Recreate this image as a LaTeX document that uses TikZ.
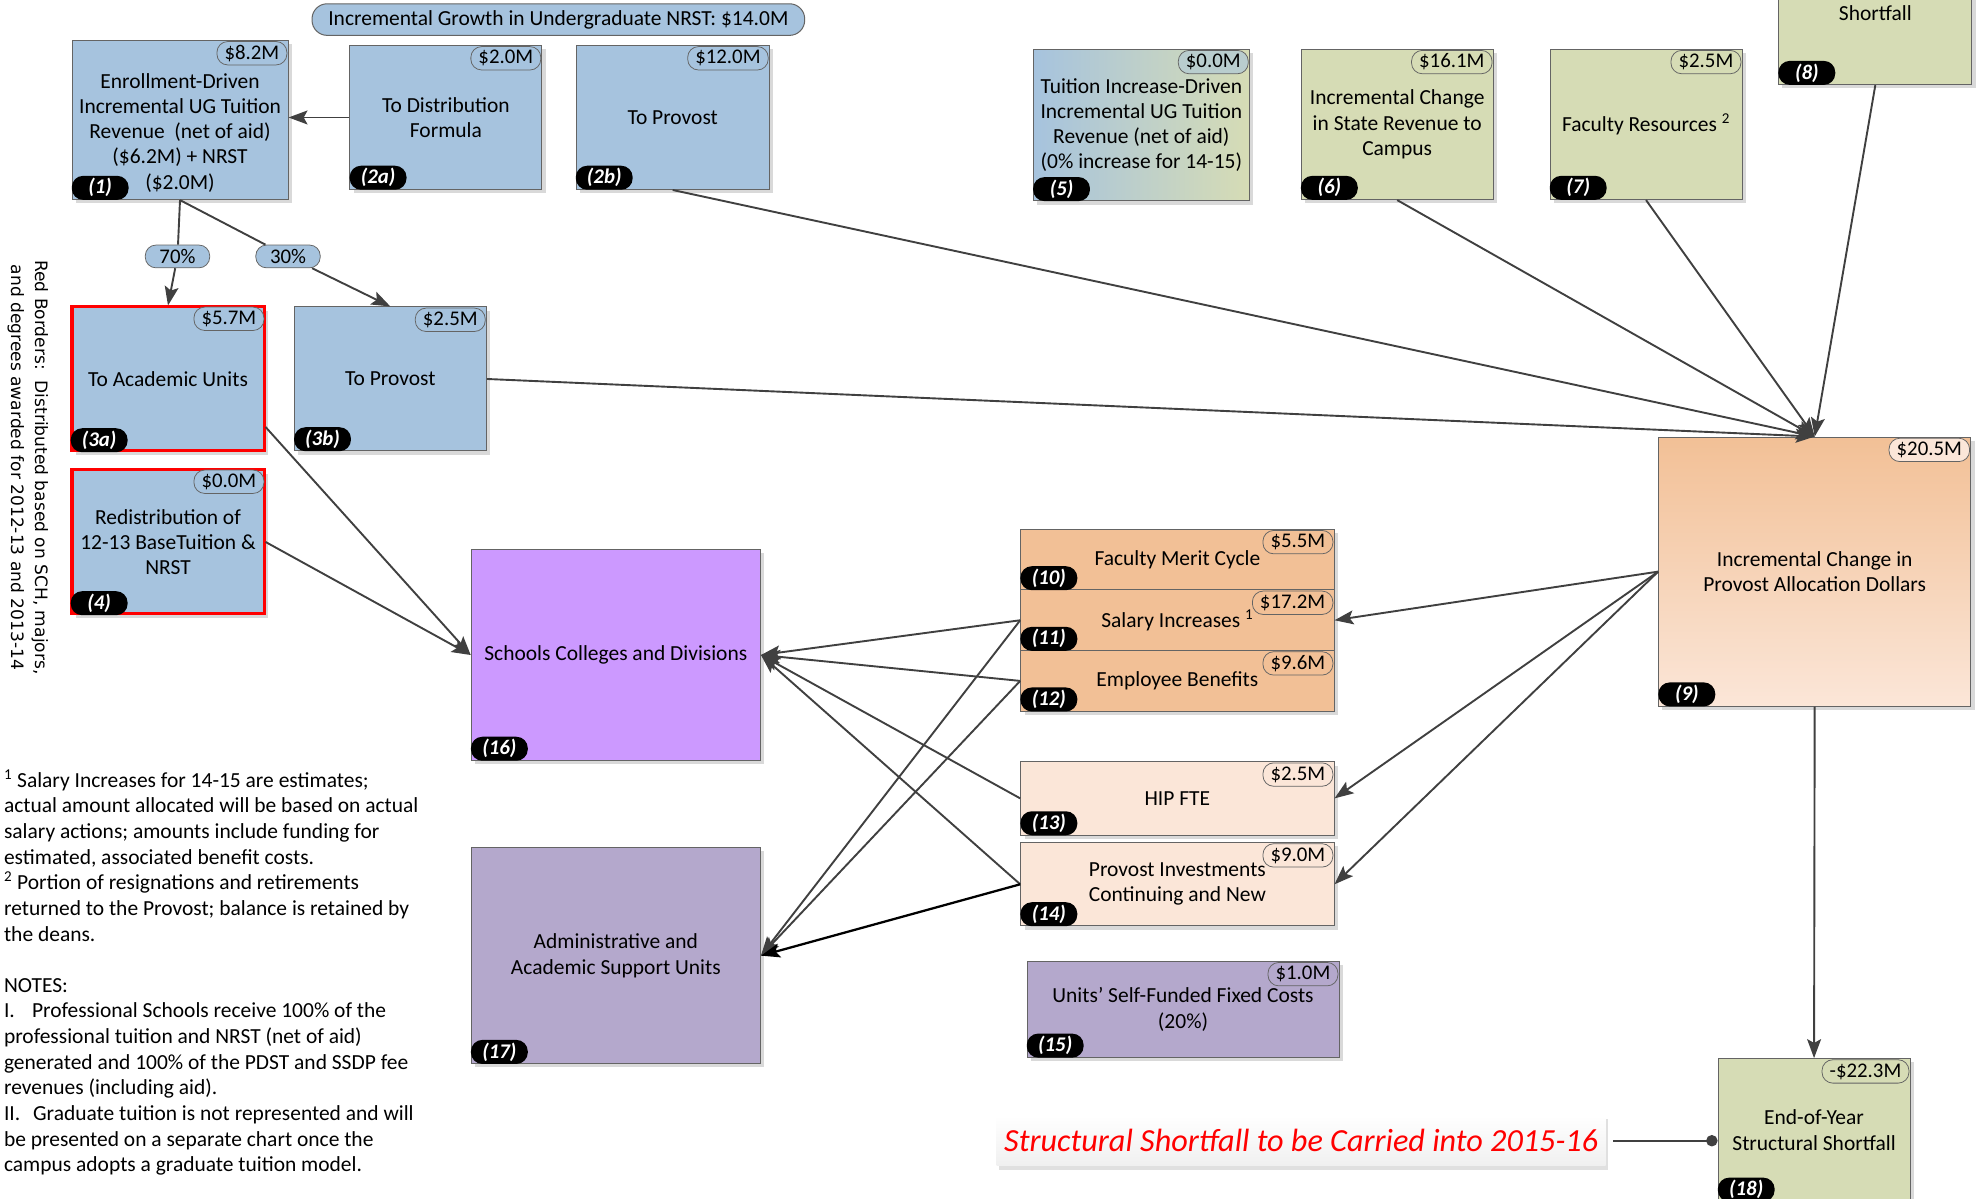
\documentclass[tikz,border=0pt]{standalone}
\usepackage{fontspec}
\setmainfont{Carlito}
\newfontfamily\keyfont{DejaVu Sans}
\usetikzlibrary{arrows.meta,shadows}

\definecolor{blueBox}{RGB}{166,195,222}
\definecolor{greenBox}{RGB}{214,220,181}
\definecolor{orangeBox}{RGB}{242,192,150}
\definecolor{peachBox}{RGB}{251,230,216}
\definecolor{purpleBox}{RGB}{204,153,255}
\definecolor{lavBox}{RGB}{180,168,204}
\definecolor{boxline}{RGB}{100,100,100}
\definecolor{linkgray}{RGB}{64,64,64}

\tikzset{
  box/.style={draw=boxline, line width=0.8pt, align=center, inner sep=2pt,
    font=\fontsize{17}{20}\selectfont,
    drop shadow={shadow xshift=3pt, shadow yshift=-3pt, opacity=0.15, fill=black}},
  redbox/.style={box, draw=red, line width=2.4pt},
  boxtext/.style={align=center, inner sep=0pt, font=\fontsize{17}{20}\selectfont},
  val/.style={rectangle, rounded corners=8.5pt, draw=boxline, line width=0.6pt, inner xsep=6pt, inner ysep=0pt,
    minimum height=18.5pt, font=\fontsize{16.5}{16}\selectfont,
    anchor=north east, xshift=-1pt, yshift=-1pt},
  num/.style={rectangle, rounded corners=9pt, fill=black, text=white, inner sep=0pt, minimum width=45pt,
    minimum height=19pt, font=\fontsize{16.5}{16}\selectfont\bfseries\itshape, anchor=south west},
  pct/.style={rectangle, rounded corners=8.5pt, draw=boxline, fill=blueBox, line width=0.6pt, inner xsep=4pt,
    minimum height=18pt, minimum width=51pt, font=\fontsize{16.5}{16}\selectfont},
  link/.style={draw=linkgray, line width=1.5pt},
  arr/.style={link, -{Stealth[length=15pt,width=11pt,inset=3pt]}},
}

\begin{document}
\begin{tikzpicture}[x=1pt,y=-1pt]

  \useasboundingbox (0,0) rectangle (1565,949);
  \fill[white] (0,0) rectangle (1565,949);
  \clip (0,0) rectangle (1565,949);

  % Banner
  \node[rectangle, rounded corners=12pt, draw=boxline, fill=blueBox, line width=0.8pt, minimum width=390pt,
    minimum height=25pt, font=\fontsize{17}{20}\selectfont] (growth) at (442,15.5)
    {Incremental Growth in Undergraduate NRST: \$14.0M};

  % Undergraduate tuition boxes
  \node[box, fill=blueBox, minimum width=171pt, minimum height=126pt] (b1) at (142.5,95) {};
  \node[boxtext] (t1) at (142.5,105) {Enrollment-Driven\\Incremental UG Tuition\\Revenue\ \ (net of aid)\\(\$6.2M) + NRST\\(\$2.0M)};
  \node[box, fill=blueBox, minimum width=152pt, minimum height=114pt] (b2a) at (353,93) {To Distribution\\Formula};
  \node[box, fill=blueBox, minimum width=153pt, minimum height=114pt] (b2b) at (532.5,93) {To Provost};
  \node[redbox, fill=blueBox, minimum width=152pt, minimum height=114pt] (b3a) at (133,300) {To Academic Units};
  \node[box, fill=blueBox, minimum width=152pt, minimum height=114pt] (b3b) at (309,300) {To Provost};
  \node[redbox, fill=blueBox, minimum width=152pt, minimum height=114pt] (b4) at (133,429) {Redistribution of\\12-13 BaseTuition \&\\NRST};

  % Revenue boxes at the top right
  \node[box, left color=blueBox, right color=greenBox, minimum width=171pt, minimum height=120pt] (b5) at (903.5,99)
    {Tuition Increase-Driven\\Incremental UG Tuition\\Revenue (net of aid)\\(0\% increase for 14-15)};
  \node[box, fill=greenBox, minimum width=152pt, minimum height=119pt] (b6) at (1106,98.5) {Incremental Change\\in State Revenue to\\Campus};
  \node[box, fill=greenBox, minimum width=152pt, minimum height=119pt] (b7) at (1303,98.5) {Faculty Resources \textsuperscript{2}};
  \node[box, fill=greenBox, minimum width=153pt, minimum height=114pt] (b8) at (1484.5,10) {Shortfall};

  % Provost allocation
  \node[box, top color=orangeBox, bottom color=peachBox, minimum width=247pt, minimum height=213pt] (b9) at (1436.5,452.5)
    {Incremental Change in\\Provost Allocation Dollars};

  % Uses
  \node[box, fill=orangeBox, minimum width=248pt, minimum height=48pt] (b10) at (932,443) {Faculty Merit Cycle};
  \node[box, fill=orangeBox, minimum width=248pt, minimum height=48pt] (b11) at (932,491) {Salary Increases \textsuperscript{1}};
  \node[box, fill=orangeBox, minimum width=248pt, minimum height=48pt] (b12) at (932,539) {Employee Benefits};
  \node[box, fill=peachBox, minimum width=248pt, minimum height=58pt] (b13) at (932,632) {HIP FTE};
  \node[box, fill=peachBox, minimum width=248pt, minimum height=66pt] (b14) at (932,700) {Provost Investments\\Continuing and New};
  \node[box, fill=lavBox, minimum width=247pt, minimum height=76pt] (b15) at (936.5,799) {Units’ Self-Funded Fixed Costs\\(20\%)};

  % Recipients
  \node[box, fill=purpleBox, minimum width=229pt, minimum height=167pt] (b16) at (487.5,518.5) {Schools Colleges and Divisions};
  \node[box, fill=lavBox, minimum width=229pt, minimum height=171pt] (b17) at (487.5,756.5) {Administrative and\\Academic Support Units};

  % End of year
  \node[box, fill=greenBox, minimum width=152pt, minimum height=113pt] (b18) at (1436,894.5) {End-of-Year\\Structural Shortfall};

  % Amounts and numbers
  \foreach \bx/\amt/\idx/\col in {
      b1/\$8.2M/1/blueBox, b2a/\$2.0M/2a/blueBox, b2b/\$12.0M/2b/blueBox,
      b3a/\$5.7M/3a/blueBox, b3b/\$2.5M/3b/blueBox, b4/\$0.0M/4/blueBox,
      b5/\$0.0M/5/blueBox!60!greenBox, b6/\$16.1M/6/greenBox, b7/\$2.5M/7/greenBox,
      b9/\$20.5M/9/peachBox, b10/\$5.5M/10/orangeBox, b11/\$17.2M/11/orangeBox,
      b12/\$9.6M/12/orangeBox, b13/\$2.5M/13/peachBox, b14/\$9.0M/14/peachBox,
      b15/\$1.0M/15/lavBox, b18/-\$22.3M/18/greenBox}
  {
    \node[val, fill=\col] (v\bx) at (\bx.north east) {\amt};
    \node[num] (k\bx) at (\bx.south west) {(\idx)};
  }
  \node[num] (kb8) at (b8.south west) {(8)};
  \node[num] (kb16) at (b16.south west) {(16)};
  \node[num] (kb17) at (b17.south west) {(17)};

  % Split percentages
  \node[pct] (p70) at (140.5,203) {70\%};
  \node[pct] (p30) at (228,203) {30\%};

  % Connectors
  \draw[arr] (b2a.west) -- (b1.east |- b2a.west);
  \draw[link] (b1.south) -- (p70);
  \draw[arr] (p70) -- (b3a.north);
  \draw[link] (b1.south) -- (p30);
  \draw[arr] (p30) -- (b3b.north);
  \draw[arr] ([yshift=-38pt]b3a.east) -- (b16.west);
  \draw[arr] (b4.east) -- (b16.west);

  \draw[arr] (b2b.south) -- (b9.north);
  \draw[arr] (b3b.east) -- (b9.north);
  \draw[arr] (b6.south) -- (b9.north);
  \draw[arr] (b7.south) -- (b9.north);
  \draw[arr] (b8.south) -- (b9.north);

  \draw[arr] (b9.west) -- (b11.east);
  \draw[arr] (b9.west) -- (b13.east);
  \draw[arr] (b9.west) -- (b14.east);
  \draw[arr] (b9.south) -- (b18.north);

  \foreach \src in {b11,b12,b13,b14}
    \draw[arr] (\src.west) -- (b16.east);
  \draw[arr] (b11.west) -- (b17.east);
  \draw[arr] (b12.west) -- (b17.east);
  \draw[arr, draw=black, line width=1.8pt] (b14.west) -- (b17.east);

  % Carry-over note
  \node[top color=white, bottom color=gray!12, minimum width=482pt, minimum height=40pt,
    font=\fontsize{25.5}{28}\selectfont\itshape, text=red,
    drop shadow={shadow xshift=2pt, shadow yshift=-3pt, opacity=0.12, fill=black}] (carry) at (1030,903)
    {Structural Shortfall to be Carried into 2015-16};
  \draw[link, -{Circle[length=9pt]}] ([xshift=6pt]carry.east) -- (carry.east -| b18.west);

  % Side key
  \node[rotate=-90, align=center, font=\keyfont\fontsize{13.5}{19}\selectfont] (redkey) at (22,370)
    {Red Borders:\ \ Distributed based on SCH, majors,\\and degrees awarded for 2012-13 and 2013-14};

  % Footnotes
  \node[align=left, inner sep=0pt, anchor=north west, font=\fontsize{17}{20.3}\selectfont] (notes) at (3,609) {%
    \textsuperscript{1} Salary Increases for 14-15 are estimates;\\
    actual amount allocated will be based on actual\\
    salary actions; amounts include funding for\\
    estimated, associated benefit costs.\\
    \textsuperscript{2} Portion of resignations and retirements\\
    returned to the Provost; balance is retained by\\
    the deans.\\[20.3pt]
    NOTES:\\
    I.\hspace{0.8em}Professional Schools receive 100\% of the\\
    professional tuition and NRST (net of aid)\\
    generated and 100\% of the PDST and SSDP fee\\
    revenues (including aid).\\
    II.\hspace{0.6em}Graduate tuition is not represented and will\\
    be presented on a separate chart once the\\
    campus adopts a graduate tuition model.};

\end{tikzpicture}
\end{document}
